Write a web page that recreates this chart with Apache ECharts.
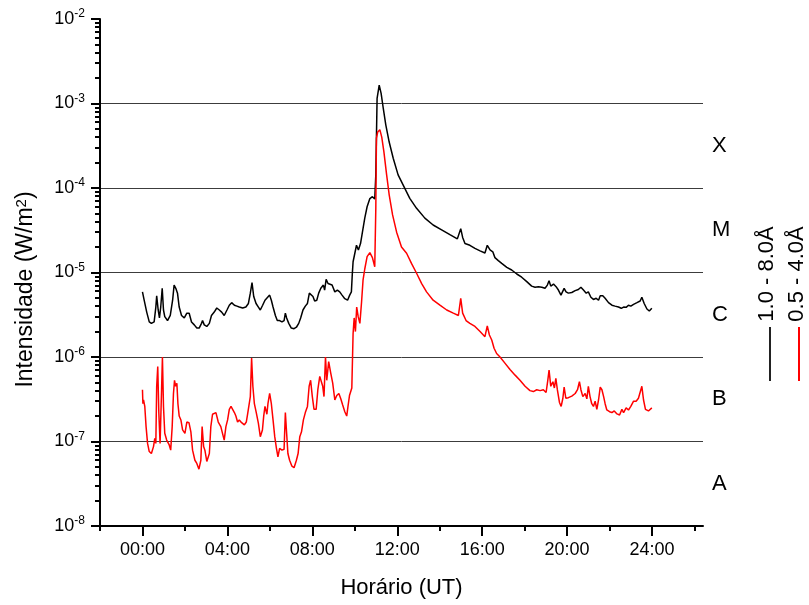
<!DOCTYPE html>
<html>
<head>
<meta charset="utf-8">
<script src="https://cdn.jsdelivr.net/npm/echarts/dist/echarts.min.js"></script>
<style>html,body{margin:0;padding:0;background:#fff;}#chart{width:809px;height:605px;}</style>
</head>
<body>
<div id="chart"></div>
<script>
// ---- data (hours UT, flux W/m^2) ----
const blackTime = [0.0,0.08,0.2,0.32,0.42,0.55,0.63,0.67,0.74,0.8,0.86,0.93,0.99,1.05,1.18,1.31,1.42,1.49,1.57,1.65,1.73,1.84,1.97,2.09,2.2,2.31,2.44,2.56,2.67,2.78,2.83,2.91,3.03,3.15,3.25,3.38,3.5,3.62,3.73,3.85,3.98,4.09,4.2,4.33,4.45,4.56,4.72,4.87,4.99,5.08,5.16,5.24,5.35,5.46,5.55,5.66,5.77,5.86,5.99,6.07,6.15,6.26,6.35,6.46,6.57,6.67,6.73,6.79,6.89,7.01,7.14,7.25,7.36,7.45,7.56,7.67,7.77,7.86,7.92,8.03,8.11,8.21,8.3,8.4,8.46,8.52,8.58,8.65,8.74,8.82,8.93,9.06,9.18,9.29,9.4,9.53,9.66,9.76,9.84,9.88,9.92,10.0,10.08,10.17,10.27,10.36,10.47,10.58,10.71,10.83,10.94,10.99,11.05,11.15,11.24,11.34,11.46,11.62,11.81,12.04,12.28,12.59,12.91,13.3,13.69,14.09,14.48,14.83,14.92,14.99,15.08,15.19,15.42,15.66,15.9,16.13,16.24,16.37,16.5,16.6,16.76,16.92,17.16,17.39,17.63,17.86,18.1,18.33,18.49,18.65,18.81,18.96,19.07,19.15,19.23,19.36,19.48,19.59,19.71,19.8,19.86,19.95,20.06,20.22,20.38,20.53,20.65,20.77,20.9,21.0,21.12,21.24,21.37,21.48,21.56,21.68,21.79,21.95,22.11,22.26,22.42,22.55,22.66,22.78,22.89,23.0,23.13,23.29,23.44,23.52,23.63,23.76,23.87,23.99];
const blackFlux = [5.9e-6,4.7e-6,3.4e-6,2.6e-6,2.5e-6,2.6e-6,3.9e-6,5.3e-6,3.6e-6,2.9e-6,3.9e-6,6.5e-6,3.6e-6,3.0e-6,2.7e-6,3.1e-6,4.7e-6,7.1e-6,6.5e-6,5.7e-6,3.9e-6,3.1e-6,2.9e-6,3.3e-6,3.3e-6,2.6e-6,2.4e-6,2.2e-6,2.2e-6,2.5e-6,2.7e-6,2.4e-6,2.3e-6,2.5e-6,3.1e-6,3.4e-6,3.8e-6,3.6e-6,3.4e-6,3.1e-6,3.6e-6,4.1e-6,4.4e-6,4.1e-6,4.0e-6,3.9e-6,3.8e-6,3.9e-6,4.3e-6,5.7e-6,7.6e-6,5.2e-6,4.3e-6,3.9e-6,3.6e-6,4.1e-6,4.7e-6,4.5e-6,5.4e-6,4.7e-6,3.9e-6,3.1e-6,2.7e-6,2.7e-6,2.6e-6,2.7e-6,3.3e-6,2.9e-6,2.5e-6,2.2e-6,2.16e-6,2.25e-6,2.5e-6,2.9e-6,3.6e-6,4.0e-6,4.3e-6,5.7e-6,5.9e-6,5.2e-6,4.6e-6,4.7e-6,5.7e-6,6.5e-6,6.2e-6,7.1e-6,6.2e-6,8.3e-6,7.4e-6,7.8e-6,7.1e-6,5.9e-6,6.2e-6,5.9e-6,5.4e-6,4.9e-6,4.7e-6,5.4e-6,5.9e-6,9.3e-6,1.34e-5,1.34e-5,2.1e-5,1.85e-5,2.2e-5,3.0e-5,4.4e-5,6.0e-5,7.5e-5,7.9e-5,7.4e-5,1.43e-4,1.15e-3,1.65e-3,1.32e-3,8.8e-4,5.6e-4,3.5e-4,2.25e-4,1.43e-4,1.08e-4,7.55e-5,5.75e-5,4.4e-5,3.65e-5,3.2e-5,2.8e-5,2.5e-5,2.55e-5,3.3e-5,2.6e-5,2.2e-5,2.1e-5,1.93e-5,1.8e-5,1.7e-5,2.1e-5,1.85e-5,1.76e-5,1.5e-5,1.38e-5,1.28e-5,1.15e-5,1.07e-5,9.6e-6,8.8e-6,7.8e-6,6.9e-6,6.7e-6,6.8e-6,6.7e-6,6.5e-6,7.1e-6,8.0e-6,6.9e-6,7.3e-6,6.8e-6,6.2e-6,5.4e-6,5.7e-6,6.5e-6,5.9e-6,5.7e-6,5.8e-6,6.1e-6,6.3e-6,6.7e-6,6.2e-6,5.7e-6,5.9e-6,5.1e-6,4.8e-6,4.95e-6,4.7e-6,5.3e-6,5.3e-6,4.95e-6,4.4e-6,4.1e-6,4.0e-6,3.9e-6,3.77e-6,3.9e-6,3.87e-6,4.1e-6,4.0e-6,4.2e-6,4.4e-6,4.6e-6,5.1e-6,4.3e-6,3.7e-6,3.5e-6,3.77e-6];

const redTime = [0.0,0.02,0.05,0.11,0.17,0.24,0.32,0.42,0.52,0.58,0.63,0.67,0.72,0.77,0.83,0.9,0.94,0.99,1.05,1.14,1.26,1.33,1.4,1.46,1.51,1.56,1.62,1.67,1.73,1.81,1.89,2.0,2.09,2.19,2.28,2.36,2.47,2.56,2.66,2.75,2.81,2.88,2.94,3.03,3.15,3.22,3.3,3.38,3.46,3.57,3.69,3.77,3.85,3.93,4.01,4.09,4.17,4.25,4.33,4.4,4.48,4.56,4.67,4.8,4.89,4.95,5.03,5.08,5.14,5.2,5.27,5.36,5.46,5.55,5.65,5.71,5.77,5.86,5.91,5.99,6.07,6.15,6.23,6.31,6.38,6.46,6.57,6.67,6.73,6.79,6.85,6.93,7.04,7.14,7.25,7.33,7.41,7.49,7.58,7.67,7.77,7.85,7.92,8.0,8.08,8.18,8.26,8.35,8.42,8.49,8.55,8.62,8.68,8.77,8.87,8.96,9.06,9.15,9.25,9.34,9.43,9.53,9.62,9.68,9.75,9.81,9.86,9.92,9.97,10.03,10.09,10.16,10.24,10.32,10.39,10.47,10.58,10.71,10.83,10.94,10.98,10.99,11.02,11.08,11.18,11.27,11.37,11.5,11.62,11.78,11.97,12.2,12.44,12.67,12.91,13.15,13.38,13.69,14.01,14.33,14.64,14.88,14.99,15.08,15.24,15.42,15.66,15.9,16.13,16.24,16.34,16.45,16.56,16.68,16.84,17.08,17.31,17.55,17.78,18.02,18.25,18.41,18.57,18.73,18.88,19.01,19.09,19.15,19.23,19.33,19.4,19.47,19.54,19.64,19.72,19.8,19.86,19.94,20.06,20.22,20.38,20.49,20.58,20.65,20.74,20.85,20.93,21.0,21.08,21.16,21.24,21.32,21.4,21.48,21.56,21.64,21.72,21.79,21.87,22.0,22.11,22.22,22.35,22.47,22.58,22.66,22.78,22.89,23.0,23.13,23.25,23.36,23.44,23.52,23.6,23.69,23.83,23.99];
const redFlux = [4.1e-7,2.8e-7,3.1e-7,2.6e-7,1.5e-7,9.5e-8,7.6e-8,7.2e-8,8.7e-8,1.09e-7,9.5e-8,4.5e-7,7.7e-7,2.2e-7,9.5e-8,4.1e-7,1.0e-6,2.6e-7,1.25e-7,1.04e-7,9.1e-8,7.9e-8,1.5e-7,3.7e-7,5.3e-7,4.5e-7,4.9e-7,2.8e-7,2.0e-7,1.8e-7,1.37e-7,1.25e-7,1.7e-7,1.67e-7,1.3e-7,7.9e-8,6.0e-8,5.5e-8,4.7e-8,6.0e-8,1.5e-7,8.7e-8,7.9e-8,5.8e-8,7.2e-8,1.5e-7,2.1e-7,2.0e-7,2.2e-7,1.7e-7,1.5e-7,1.25e-7,1.04e-7,1.5e-7,1.8e-7,2.4e-7,2.6e-7,2.7e-7,2.2e-7,2.0e-7,1.7e-7,1.8e-7,1.67e-7,1.57e-7,1.7e-7,2.1e-7,2.2e-7,3.4e-7,9.7e-7,4.5e-7,2.8e-7,2.2e-7,1.64e-7,1.14e-7,1.37e-7,2.0e-7,2.6e-7,2.1e-7,2.8e-7,3.7e-7,2.8e-7,1.8e-7,1.14e-7,8.3e-8,6.6e-8,8.3e-8,7.9e-8,8.1e-8,2.2e-7,1.25e-7,7.2e-8,6.0e-8,5.1e-8,4.9e-8,6.0e-8,7.2e-8,1.14e-7,1.3e-7,1.8e-7,2.2e-7,2.6e-7,4.5e-7,5.3e-7,3.4e-7,2.4e-7,2.4e-7,4.1e-7,5.9e-7,6.1e-7,4.5e-7,3.4e-7,1.0e-6,5.3e-7,8.8e-7,6.4e-7,4.9e-7,3.1e-7,3.5e-7,3.7e-7,3.2e-7,2.7e-7,2.25e-7,2.0e-7,2.6e-7,3.5e-7,3.4e-7,4.3e-7,1.9e-6,2.9e-6,2.0e-6,3.9e-6,3.0e-6,2.5e-6,4.5e-6,8.2e-6,1.1e-5,1.54e-5,1.72e-5,1.5e-5,1.17e-5,1.2e-5,5.75e-5,3.9e-4,4.6e-4,4.9e-4,4.0e-4,2.7e-4,1.43e-4,8.3e-5,4.8e-5,3.0e-5,2.0e-5,1.69e-5,1.28e-5,9.8e-6,7.4e-6,5.9e-6,4.7e-6,4.1e-6,3.6e-6,3.3e-6,3.1e-6,4.95e-6,3.3e-6,2.7e-6,2.5e-6,2.3e-6,2.0e-6,1.74e-6,2.33e-6,1.82e-6,1.59e-6,1.27e-6,1.1e-6,1.0e-6,8.4e-7,7.1e-7,6.1e-7,5.3e-7,4.5e-7,4.0e-7,3.9e-7,4.1e-7,4.0e-7,4.1e-7,3.8e-7,5.3e-7,7.0e-7,4.5e-7,5.1e-7,4.3e-7,5.6e-7,4.1e-7,2.9e-7,2.6e-7,3.25e-7,4.4e-7,3.25e-7,3.3e-7,3.45e-7,3.7e-7,4.1e-7,5.1e-7,4.1e-7,3.4e-7,3.7e-7,3.2e-7,4.5e-7,3.4e-7,2.8e-7,2.6e-7,3.0e-7,2.4e-7,3.1e-7,4.4e-7,4.1e-7,3.4e-7,2.8e-7,2.36e-7,2.25e-7,2.2e-7,2.3e-7,2.12e-7,2.06e-7,2.4e-7,2.2e-7,2.5e-7,2.36e-7,2.6e-7,3.0e-7,3.0e-7,3.25e-7,3.25e-7,4.5e-7,3.1e-7,2.4e-7,2.3e-7,2.5e-7];

const seriesNames = ['1.0 - 8.0Å', '0.5 - 4.0Å'];
const xMajorHours = [0, 4, 8, 12, 16, 20, 24];
const xMinorHours = [-2, 2, 6, 10, 14, 18, 22, 26];
const yDecades = [1e-8, 1e-7, 1e-6, 1e-5, 1e-4, 1e-3, 1e-2];
const yMinorTicks = [
  2e-8,3e-8,4e-8,5e-8,6e-8,7e-8,8e-8,9e-8,
  2e-7,3e-7,4e-7,5e-7,6e-7,7e-7,8e-7,9e-7,
  2e-6,3e-6,4e-6,5e-6,6e-6,7e-6,8e-6,9e-6,
  2e-5,3e-5,4e-5,5e-5,6e-5,7e-5,8e-5,9e-5,
  2e-4,3e-4,4e-4,5e-4,6e-4,7e-4,8e-4,9e-4,
  2e-3,3e-3,4e-3,5e-3,6e-3,7e-3,8e-3,9e-3];
const classLetters = ['A', 'B', 'C', 'M', 'X'];
const classCenters = [3.162e-8, 3.162e-7, 3.162e-6, 3.162e-5, 3.162e-4];

const FONT = '"Liberation Sans", Arial, sans-serif';
const zip = (t, v) => t.map((x, i) => [x, v[i]]);

const chart = echarts.init(document.getElementById('chart'), null, {renderer: 'canvas'});
const X_MIN = -2, X_MAX = 26.4, Y_MIN = 1e-8, Y_MAX = 1e-2;
const GRID = {left: 100, right: 106, top: 19, bottom: 79, containLabel: false};

const option = {
  animation: false,
  backgroundColor: '#fff',
  grid: [Object.assign({}, GRID), Object.assign({}, GRID)],
  xAxis: [
    {
      gridIndex: 0, type: 'value', min: X_MIN, max: X_MAX,
      axisLine: {show: true, onZero: false, lineStyle: {color: '#000', width: 2}},
      axisTick: {show: true, customValues: xMajorHours, length: 10, lineStyle: {color: '#000', width: 2}},
      axisLabel: {
        customValues: xMajorHours, margin: 15, fontSize: 18, fontFamily: FONT, color: '#000',
        formatter: v => String(Math.round(v)).padStart(2, '0') + ':00'
      },
      splitLine: {show: false},
      name: 'Horário (UT)', nameLocation: 'middle', nameGap: 51,
      nameTextStyle: {fontSize: 22, fontFamily: FONT, color: '#000'}
    },
    {
      gridIndex: 0, type: 'value', min: X_MIN, max: X_MAX, position: 'bottom',
      axisLine: {show: false, onZero: false},
      axisTick: {show: true, customValues: xMinorHours, length: 5, lineStyle: {color: '#000', width: 2}},
      axisLabel: {show: false},
      splitLine: {show: false}
    },
    {
      // helper axis of grid 1: its zero sits on the left edge, where the minor y ticks are placed
      gridIndex: 1, type: 'value', min: 0, max: 1, position: 'bottom',
      axisLine: {show: false, onZero: false},
      axisTick: {show: false},
      axisLabel: {show: false}, splitLine: {show: false}
    }
  ],
  yAxis: [
    {
      gridIndex: 0, type: 'log', logBase: 10, min: Y_MIN, max: Y_MAX, interval: 1, splitNumber: 6,
      axisLine: {show: true, onZero: false, lineStyle: {color: '#000', width: 2}},
      axisTick: {show: true, customValues: yDecades, length: 9, lineStyle: {color: '#000', width: 2}},
      axisLabel: {
        customValues: yDecades, margin: 15, color: '#000',
        formatter: v => '{b|10}{s|' + Math.round(Math.log10(v)) + '}',
        rich: {
          b: {fontSize: 18, fontFamily: FONT, color: '#000', lineHeight: 22},
          s: {fontSize: 12, fontFamily: FONT, color: '#000', verticalAlign: 'top', lineHeight: 12}
        }
      },
      splitLine: {show: true, showMinLine: false, showMaxLine: false, lineStyle: {color: '#3c3c3c', width: 1}},
      name: 'Intensidade (W/m{s|2})', nameLocation: 'middle', nameRotate: 90, nameGap: 63,
      nameTextStyle: {
        fontSize: 23, fontFamily: FONT, color: '#000', padding: [0, 34, 0, 0],
        rich: {s: {fontSize: 15, fontFamily: FONT, color: '#000', verticalAlign: 'top', lineHeight: 15}}
      }
    },
    {
      gridIndex: 0, type: 'log', logBase: 10, min: Y_MIN, max: Y_MAX, position: 'right',
      axisLine: {show: false, onZero: false},
      axisTick: {show: false},
      axisLabel: {
        customValues: classCenters, margin: 9, fontSize: 22, fontFamily: FONT, color: '#000',
        formatter: v => {
          let best = 0, bd = Infinity;
          classCenters.forEach((c, i) => { const d = Math.abs(Math.log10(c) - Math.log10(v)); if (d < bd) { bd = d; best = i; } });
          return classLetters[best];
        }
      },
      splitLine: {show: false}
    },
    {
      gridIndex: 1, type: 'log', logBase: 10, min: Y_MIN, max: Y_MAX, position: 'left',
      axisLine: {show: false, onZero: true},
      axisTick: {show: true, customValues: yMinorTicks, length: 5, lineStyle: {color: '#000', width: 2}},
      axisLabel: {show: false},
      splitLine: {show: false}
    }
  ],
  series: [
    {
      name: seriesNames[0], type: 'line', xAxisIndex: 0, yAxisIndex: 0,
      data: zip(blackTime, blackFlux), showSymbol: false, symbol: 'none',
      lineStyle: {color: '#000', width: 1.5}, itemStyle: {color: '#000'}, z: 3
    },
    {
      name: seriesNames[1], type: 'line', xAxisIndex: 0, yAxisIndex: 0,
      data: zip(redTime, redFlux), showSymbol: false, symbol: 'none',
      lineStyle: {color: '#ff0000', width: 1.5}, itemStyle: {color: '#ff0000'}, z: 4
    }
  ],
  graphic: [
    {type: 'text', x: 767, y: 274, rotation: Math.PI / 2,
     style: {text: seriesNames[0], fontSize: 22, fontFamily: FONT, fill: '#000', align: 'center', verticalAlign: 'middle'}},
    {type: 'line', shape: {x1: 770, y1: 327, x2: 770, y2: 381}, style: {stroke: '#222', lineWidth: 2}},
    {type: 'text', x: 797, y: 274, rotation: Math.PI / 2,
     style: {text: seriesNames[1], fontSize: 22, fontFamily: FONT, fill: '#000', align: 'center', verticalAlign: 'middle'}},
    {type: 'line', shape: {x1: 799, y1: 327, x2: 799, y2: 381}, style: {stroke: '#ff0000', lineWidth: 2}}
  ]
};
chart.setOption(option);
</script>
</body>
</html>
